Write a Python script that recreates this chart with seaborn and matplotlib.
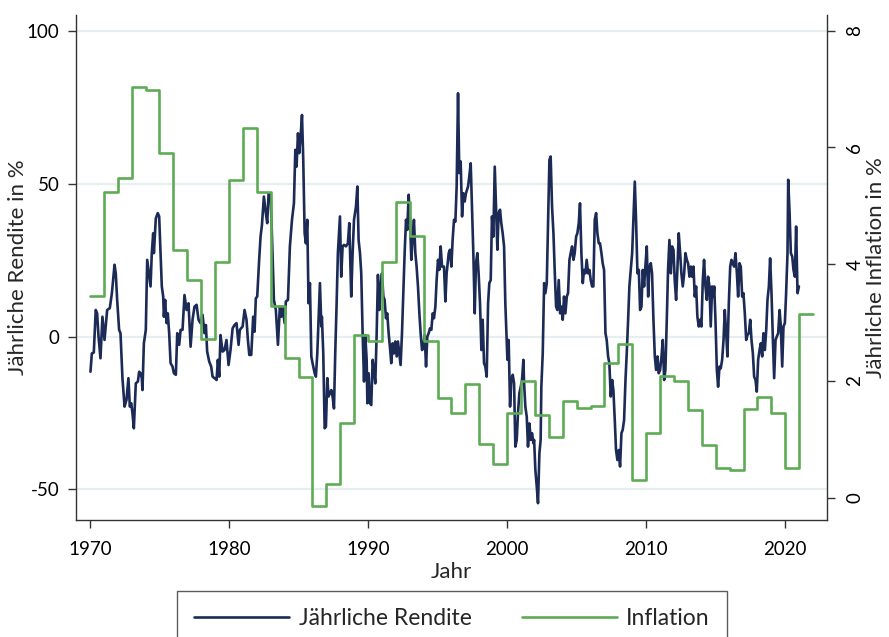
import numpy as np
import pandas as pd
import matplotlib
matplotlib.use("Agg")
import matplotlib.pyplot as plt
import seaborn as sns
from matplotlib.lines import Line2D

# ---------------- data ----------------
# Annual inflation (right axis), one value per calendar year
infl_years = list(range(1970, 2022))
infl_values = [3.45, 5.24, 5.48, 7.03, 6.98, 5.91, 4.25, 3.73, 2.72, 4.04,
               5.44, 6.33, 5.24, 3.29, 2.40, 2.06, -0.14, 0.24, 1.27, 2.79,
               2.69, 4.04, 5.06, 4.48, 2.69, 1.70, 1.45, 1.94, 0.91, 0.58,
               1.45, 1.99, 1.42, 1.03, 1.66, 1.54, 1.57, 2.30, 2.63, 0.31,
               1.11, 2.08, 2.00, 1.50, 0.90, 0.51, 0.48, 1.51, 1.73, 1.45,
               0.50, 3.14]

# Rolling annual return (left axis) in segments
ret_years_1970 = [1970.04, 1970.14, 1970.28, 1970.42, 1970.52, 1970.62, 1970.76, 1970.90, 1971.05, 1971.24,
                  1971.43, 1971.58, 1971.77, 1971.86, 1971.96, 1972.10, 1972.20, 1972.34, 1972.49, 1972.63,
                  1972.77, 1972.87, 1972.97, 1973.06, 1973.16, 1973.30, 1973.45, 1973.54, 1973.64, 1973.73,
                  1973.78, 1973.88, 1974.02, 1974.12, 1974.21, 1974.36, 1974.45, 1974.55, 1974.60, 1974.74,
                  1974.88, 1974.98, 1975.08, 1975.17, 1975.27, 1975.32, 1975.41, 1975.51, 1975.60, 1975.70,
                  1975.80, 1975.94]
ret_vals_1970 = [-11.5, -5.5, -5.2, 8.7, 7.6, 0.0, -7.1, 6.5, -1.1, 8.7,
                 9.3, 14.2, 23.5, 20.7, 12.0, 2.2, 1.1, -13.6, -22.9, -20.7,
                 -13.6, -22.9, -21.8, -25.1, -30.0, -15.3, -14.7, -11.5, -12.0, -13.6,
                 -17.5, -2.2, 2.2, 25.1, 21.8, 16.4, 27.3, 33.8, 27.3, 38.7,
                 40.4, 39.3, 27.3, 16.4, 13.1, 6.5, 12.0, 4.4, 7.6, 1.1,
                 -8.7, -9.8]

ret_years_1976 = [1976.04, 1976.18, 1976.28, 1976.42, 1976.52, 1976.66, 1976.80, 1976.95, 1977.09, 1977.24,
                  1977.38, 1977.52, 1977.67, 1977.81, 1977.95, 1978.10, 1978.24, 1978.34, 1978.43, 1978.58,
                  1978.72, 1978.82, 1978.96, 1979.11, 1979.20, 1979.30, 1979.39, 1979.54, 1979.68, 1979.82,
                  1979.97, 1980.11, 1980.26, 1980.40, 1980.54, 1980.69, 1980.78, 1980.98, 1981.12, 1981.26,
                  1981.36, 1981.46, 1981.60, 1981.74, 1981.84, 1981.93, 1982.03, 1982.17, 1982.27, 1982.37]
ret_vals_1976 = [-12.0, -12.5, 1.1, -2.7, 2.2, 2.2, 13.6, 8.7, 10.9, -3.3,
                 5.5, 9.8, 10.4, 5.5, 4.4, 7.1, 1.1, 3.8, -4.9, -8.2,
                 -9.8, -13.1, -13.6, -14.2, -7.6, -13.1, 0.5, -4.9, -4.4, -1.1,
                 -9.3, -4.4, 2.7, 3.8, 4.4, -2.7, 2.2, 3.3, 8.7, 5.5,
                 -1.1, -6.0, -6.0, 6.5, 1.6, 12.5, 13.1, 25.1, 32.7, 36.5]

ret_years_1982 = [1982.51, 1982.65, 1982.75, 1982.85, 1982.99, 1983.13, 1983.23, 1983.37, 1983.52, 1983.66,
                  1983.76, 1983.85, 1984.00, 1984.09, 1984.24, 1984.38, 1984.53, 1984.67, 1984.77, 1984.86,
                  1984.96, 1985.05, 1985.15, 1985.25, 1985.34, 1985.44, 1985.53, 1985.63, 1985.72, 1985.82,
                  1985.92, 1986.01, 1986.16, 1986.25, 1986.35, 1986.44, 1986.54, 1986.64, 1986.68, 1986.78,
                  1986.88, 1986.97, 1987.07, 1987.16, 1987.26, 1987.36, 1987.45, 1987.55, 1987.64, 1987.74,
                  1987.83, 1987.98, 1988.07, 1988.17, 1988.27, 1988.41, 1988.55, 1988.65, 1988.79, 1988.89]
ret_vals_1982 = [45.8, 40.4, 37.1, 46.9, 46.9, 27.3, 12.0, 8.7, -2.7, 9.8,
                 6.5, 9.8, 4.4, 11.5, 12.0, 29.5, 38.2, 43.6, 61.1, 55.6,
                 66.5, 60.0, 65.5, 72.5, 57.8, 33.8, 30.5, 38.2, 10.9, 17.5,
                 -6.5, -8.7, -12.0, -13.1, -5.5, 5.5, 17.5, 3.3, 6.5, -5.5,
                 -30.0, -29.5, -13.6, -19.6, -18.5, -17.5, -19.6, -23.5, -5.5, 10.9,
                 27.3, 39.3, 19.6, 29.5, 30.0, 29.5, 30.5, 37.1, 13.1, 27.3]

ret_years_1989 = [1988.99, 1989.13, 1989.23, 1989.32, 1989.42, 1989.51, 1989.61, 1989.71, 1989.80, 1989.90,
                  1989.95, 1990.04, 1990.14, 1990.23, 1990.33, 1990.42, 1990.52, 1990.62, 1990.71, 1990.81,
                  1990.90, 1991.00, 1991.10, 1991.19, 1991.29, 1991.38, 1991.48, 1991.58, 1991.67, 1991.77,
                  1991.86, 1991.96, 1992.06, 1992.15, 1992.25, 1992.34, 1992.44, 1992.54, 1992.63, 1992.73,
                  1992.82, 1992.92, 1993.02, 1993.11, 1993.21, 1993.30, 1993.40, 1993.49, 1993.59, 1993.69,
                  1993.78, 1993.88, 1993.97, 1994.07, 1994.17, 1994.26, 1994.36, 1994.45, 1994.55, 1994.65,
                  1994.74, 1994.84, 1994.93, 1995.03, 1995.12, 1995.22, 1995.32, 1995.41]
ret_vals_1989 = [38.2, 42.5, 49.1, 31.6, 27.3, 20.7, 1.1, -14.7, 0.5, -7.6,
                 -21.8, -12.0, -21.8, -22.4, -7.6, -10.9, -15.3, 1.1, 20.2, 8.7,
                 16.4, 20.7, 13.1, 12.0, 6.0, 7.6, 1.1, -3.8, -8.7, -2.2,
                 -5.5, -1.6, -6.5, -1.6, -5.5, -9.3, 1.1, 15.3, 27.3, 38.2,
                 34.9, 46.4, 38.2, 25.1, 32.7, 38.2, 27.3, 22.9, 16.4, 7.6,
                 1.1, -4.4, -3.8, 0.5, -9.8, 0.0, 1.1, 2.7, 2.2, 7.6,
                 6.0, 9.8, 18.5, 25.1, 21.8, 29.5, 22.9, 22.9]

ret_years_1995 = [1995.46, 1995.56, 1995.65, 1995.80, 1995.89, 1995.99, 1996.08, 1996.18, 1996.28, 1996.37,
                  1996.47, 1996.56, 1996.66, 1996.76, 1996.85, 1996.95, 1997.04, 1997.19, 1997.28, 1997.38,
                  1997.47, 1997.57, 1997.67, 1997.76, 1997.86, 1997.95, 1998.05, 1998.15, 1998.24, 1998.34,
                  1998.43, 1998.53, 1998.63, 1998.72, 1998.82, 1998.91, 1999.01, 1999.11, 1999.20, 1999.30,
                  1999.39, 1999.49, 1999.58, 1999.68, 1999.78, 1999.87, 1999.97, 2000.02, 2000.11, 2000.21,
                  2000.30, 2000.40, 2000.50, 2000.59, 2000.69, 2000.78, 2000.88, 2000.98, 2001.07, 2001.17,
                  2001.22, 2001.31, 2001.41, 2001.50, 2001.60, 2001.70, 2001.79, 2001.89]
ret_vals_1995 = [22.9, 11.5, 20.7, 27.3, 28.4, 22.9, 31.6, 38.2, 37.6, 49.1,
                 79.6, 53.5, 57.3, 39.3, 46.9, 44.2, 46.9, 49.1, 52.4, 56.7,
                 42.5, 27.3, 7.6, 24.0, 27.3, 20.7, 10.9, -4.4, 5.5, -8.7,
                 -9.8, -13.1, 10.9, 17.5, 18.5, 39.3, 32.7, 55.6, 42.5, 28.4,
                 40.4, 41.5, 37.1, 33.8, 29.5, 10.9, -1.1, -7.6, -1.1, -22.9,
                 -14.2, -12.5, -15.3, -36.0, -33.8, -25.1, -18.5, -16.4, -14.2, -7.6,
                 -15.3, -22.9, -26.2, -36.0, -28.4, -33.8, -31.6, -34.9]

ret_years_2002 = [2001.94, 2002.03, 2002.13, 2002.22, 2002.32, 2002.41, 2002.46, 2002.56, 2002.66, 2002.75,
                  2002.85, 2002.94, 2003.04, 2003.13, 2003.23, 2003.33, 2003.42, 2003.52, 2003.61, 2003.71,
                  2003.81, 2003.90, 2004.00, 2004.09, 2004.19, 2004.29, 2004.38, 2004.48, 2004.57, 2004.67,
                  2004.77, 2004.86, 2004.96, 2005.05, 2005.15, 2005.24, 2005.34, 2005.44, 2005.53, 2005.63,
                  2005.72, 2005.82, 2005.92, 2006.01, 2006.11, 2006.20, 2006.30, 2006.40, 2006.49, 2006.59,
                  2006.68, 2006.78, 2006.87, 2006.97, 2007.07, 2007.16, 2007.26, 2007.35, 2007.45, 2007.55,
                  2007.64, 2007.74, 2007.83, 2007.93, 2008.03, 2008.12, 2008.22, 2008.31]
ret_vals_2002 = [-33.8, -43.6, -49.1, -54.5, -38.2, -33.8, -16.4, -5.5, 17.5, 14.2,
                 17.5, 36.0, 57.8, 58.9, 42.5, 33.8, 21.8, 9.8, 8.7, 18.5,
                 7.6, 9.8, 5.5, 13.1, 7.6, 13.1, 14.2, 25.1, 27.3, 29.5,
                 25.1, 27.3, 32.7, 33.8, 37.1, 43.6, 27.3, 17.5, 21.8, 20.7,
                 25.1, 20.7, 21.8, 18.5, 16.4, 16.4, 38.2, 40.4, 33.8, 30.5,
                 30.5, 27.3, 24.0, 21.8, 1.1, -1.1, -6.5, -8.7, -19.6, -14.2,
                 -17.5, -27.3, -37.1, -40.4, -37.1, -42.5, -31.6, -30.5]

ret_years_2008 = [2008.41, 2008.51, 2008.60, 2008.70, 2008.79, 2008.89, 2008.99, 2009.08, 2009.18, 2009.27,
                  2009.37, 2009.47, 2009.56, 2009.66, 2009.75, 2009.85, 2009.94, 2010.04, 2010.14, 2010.23,
                  2010.33, 2010.42, 2010.52, 2010.62, 2010.71, 2010.81, 2010.90, 2011.00, 2011.10, 2011.19,
                  2011.29, 2011.38, 2011.48, 2011.57, 2011.67, 2011.77, 2011.86, 2011.96, 2012.05, 2012.15,
                  2012.25, 2012.34, 2012.44, 2012.53, 2012.63, 2012.73, 2012.82, 2012.92, 2013.01, 2013.11,
                  2013.21, 2013.30, 2013.40, 2013.49, 2013.59, 2013.68, 2013.78, 2013.88, 2013.97, 2014.07,
                  2014.16, 2014.26, 2014.36, 2014.45, 2014.55, 2014.64, 2014.74, 2014.84]
ret_vals_2008 = [-27.3, -14.2, -5.5, 5.5, 16.4, 21.8, 27.3, 38.2, 50.7, 38.2,
                 20.7, 21.8, 8.7, 9.8, 21.8, 16.4, 22.9, 29.5, 13.1, 22.9,
                 24.0, 20.7, 5.5, -6.5, -10.9, -6.5, -12.0, -10.9, -6.5, -1.1,
                 -14.2, -10.9, 5.5, 21.8, 31.6, 20.7, 29.5, 28.4, 18.5, 12.0,
                 22.9, 33.8, 27.3, 20.7, 16.4, 20.7, 27.3, 25.1, 24.0, 19.6,
                 22.9, 19.6, 22.9, 13.1, 16.4, 6.5, 3.3, 5.5, 3.3, 18.5,
                 25.1, 16.4, 12.0, 19.6, 16.4, 3.3, 16.4, 13.1]

ret_years_2015 = [2014.89, 2014.98, 2015.08, 2015.17, 2015.27, 2015.36, 2015.46, 2015.56, 2015.65, 2015.75,
                  2015.84, 2015.94, 2016.04, 2016.13, 2016.23, 2016.32, 2016.42, 2016.52, 2016.61, 2016.71,
                  2016.80, 2016.90, 2016.99, 2017.09, 2017.19, 2017.28, 2017.38, 2017.48, 2017.57, 2017.67,
                  2017.76, 2017.86, 2017.95, 2018.05, 2018.15, 2018.24, 2018.34, 2018.43, 2018.53, 2018.63,
                  2018.72, 2018.82, 2018.91, 2019.01, 2019.11, 2019.20, 2019.30, 2019.39, 2019.49, 2019.59,
                  2019.68, 2019.78, 2019.87, 2019.97, 2020.06, 2020.16, 2020.21, 2020.31, 2020.40, 2020.50,
                  2020.59, 2020.69, 2020.78, 2020.88, 2020.98]
ret_vals_2015 = [16.4, 5.5, -10.9, -16.4, -9.8, -10.4, -7.6, -1.1, 8.7, 1.1,
                 -6.5, 10.9, 22.9, 25.1, 24.0, 22.9, 27.3, 20.7, 13.1, 24.0,
                 22.9, 13.1, 14.2, 7.6, -1.1, 0.5, 1.1, 5.5, -1.1, -5.5,
                 -13.1, -14.2, -18.0, -7.6, -4.4, -2.2, -6.5, 1.1, -4.4, 2.2,
                 12.0, 16.4, 25.6, 14.2, -1.1, -13.6, -1.1, 0.0, 1.1, 8.7,
                 3.3, -9.8, 3.3, 4.4, 14.2, 27.3, 51.3, 40.4, 27.3, 26.2,
                 21.8, 19.6, 36.0, 14.2, 16.4]

x_ticks = [1970, 1980, 1990, 2000, 2010, 2020]
left_ticks = [-50, 0, 50, 100]
right_ticks = [0, 2, 4, 6, 8]

label_return = "Jährliche Rendite"
label_infl = "Inflation"

# ---------------- build frames ----------------
ret_df = pd.DataFrame({
    "Jahr": np.concatenate([ret_years_1970, ret_years_1976, ret_years_1982, ret_years_1989,
                            ret_years_1995, ret_years_2002, ret_years_2008, ret_years_2015]),
    "Rendite": np.concatenate([ret_vals_1970, ret_vals_1976, ret_vals_1982, ret_vals_1989,
                               ret_vals_1995, ret_vals_2002, ret_vals_2008, ret_vals_2015]),
})
# step series: each annual value held through the year
infl_df = pd.DataFrame({
    "Jahr": infl_years + [infl_years[-1] + 1],
    "Inflation": infl_values + [infl_values[-1]],
})

NAVY = "#1c2a56"
GREEN = "#5eab55"
GRID = "#e7eef1"
AXC = "#333333"

sns.set_theme(style="white")
plt.rcParams["font.family"] = ["Lato", "DejaVu Sans"]
plt.rcParams["axes.unicode_minus"] = False

W, H = 889, 637
fig = plt.figure(figsize=(W / 100, H / 100), dpi=100)
L, R, T, B = 76, 827, 15, 520
ax = fig.add_axes([L / W, 1 - B / H, (R - L) / W, (B - T) / H])
ax2 = ax.twinx()

sns.lineplot(data=ret_df, x="Jahr", y="Rendite", ax=ax, color=NAVY, lw=1.9,
             estimator=None, sort=False, legend=False)
sns.lineplot(data=infl_df, x="Jahr", y="Inflation", ax=ax2, color=GREEN, lw=1.9,
             estimator=None, sort=False, legend=False, drawstyle="steps-post")

ax.set_xlim(1969.0, 2023.0)
ax.set_ylim(-60.0, 105.2)
ax2.set_ylim(-0.384, 8.27)

ax.set_xticks(x_ticks)
ax.set_yticks(left_ticks)
ax2.set_yticks(right_ticks)

ax.yaxis.grid(True, color=GRID, lw=1.6)
ax.xaxis.grid(False)
ax.set_axisbelow(True)

for a in (ax, ax2):
    for s in a.spines.values():
        s.set_color(AXC)
        s.set_linewidth(1.0)
    a.spines["top"].set_visible(False)
ax.spines["right"].set_visible(False)
ax2.spines["left"].set_visible(False)
ax2.spines["bottom"].set_visible(False)

ax.tick_params(axis="both", direction="out", length=6, width=1, color=AXC,
               labelsize=13.5, labelcolor="black", pad=6)
ax.tick_params(axis="x", pad=9, bottom=True)
ax.tick_params(axis="y", left=True)
ax2.tick_params(axis="y", direction="out", length=6, width=1, color=AXC,
                labelsize=13.5, labelcolor="black", pad=8, right=True)
for lab in ax2.get_yticklabels():
    lab.set_rotation(90)
    lab.set_va("center")

ax.set_xlabel("Jahr", fontsize=16)
ax.set_ylabel("Jährliche Rendite in %", fontsize=16)
ax2.set_ylabel("Jährliche Inflation in %", fontsize=16, rotation=90)
ax.xaxis.set_label_coords(0.5, -(572 - B) / (B - T))
ax.xaxis.label.set_va("center")
ax.yaxis.set_label_coords((18 - L) / (R - L), 0.5)
ax.yaxis.label.set_va("center")
ax2.yaxis.set_label_coords((876 - L) / (R - L), 0.5)
ax2.yaxis.label.set_va("center")

handles = [Line2D([], [], color=NAVY, lw=1.9), Line2D([], [], color=GREEN, lw=1.9)]
leg = fig.legend(handles, [label_return, label_infl], loc="upper center",
                 bbox_to_anchor=(452 / W, 1 - 591 / H), ncol=2, frameon=True,
                 fancybox=False, fontsize=16.5, handlelength=4.15, handletextpad=0.4,
                 columnspacing=2.2, borderpad=0.75, borderaxespad=0)
leg.get_frame().set_edgecolor("#333333")
leg.get_frame().set_linewidth(1.0)

fig.savefig("out.png", dpi=100)
